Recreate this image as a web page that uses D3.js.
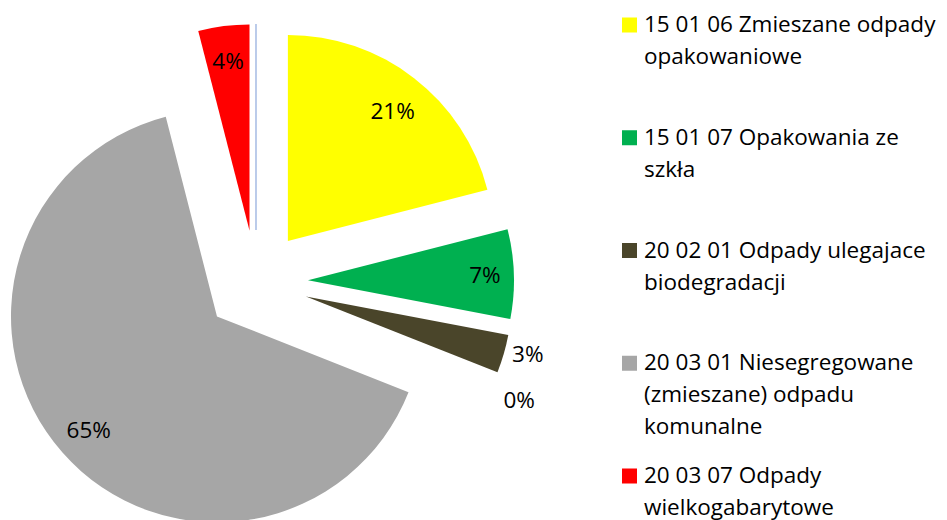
<!DOCTYPE html>
<html>
<head>
<meta charset="utf-8">
<script src="https://cdn.jsdelivr.net/npm/d3@7"></script>
<style>
  body { margin: 0; background: #fff; }
  svg { display: block; font-family: "Open Sans", Lato, sans-serif; }
</style>
</head>
<body>
<svg id="chart" width="947" height="520"></svg>
<script>
// dane wykresu
var categories = [
    "15 01 06 Zmieszane odpady opakowaniowe",
    "15 01 07 Opakowania ze szkła",
    "20 02 01 Odpady ulegajace biodegradacji",
    "",
    "20 03 01 Niesegregowane (zmieszane) odpadu komunalne",
    "20 03 07 Odpady wielkogabarytowe",
    ""
];
var values = [21, 7, 3, 0, 65, 4, 0];
var labels = ["21%", "7%", "3%", "0%", "65%", "4%", ""];
var colors = ["#FFFF00", "#00B050", "#4A452A", "#FFFFFF", "#A6A6A6", "#FF0000", "#4472C4"];
var legendLines = [
    ["15 01 06 Zmieszane odpady", "opakowaniowe"],
    ["15 01 07 Opakowania ze", "szkła"],
    ["20 02 01 Odpady ulegajace", "biodegradacji"],
    ["20 03 01 Niesegregowane", "(zmieszane) odpadu", "komunalne"],
    ["20 03 07 Odpady", "wielkogabarytowe"]
];
var legendColors = ["#FFFF00", "#00B050", "#4A452A", "#A6A6A6", "#FF0000"];

var svg = d3.select("#chart");

var cx = 256, cy = 282;
var radius = 206;
var explode = 52;
var fontSize = 22.5;

var pie = d3.pie().sort(null).value(function(d){ return d; });
var arc = d3.arc().innerRadius(0).outerRadius(radius);
var slices = pie(values);

function mid(d){ return (d.startAngle + d.endAngle) / 2; }
function shift(d){
    var a = mid(d);
    return [cx + explode * Math.sin(a), cy - explode * Math.cos(a)];
}

var g = svg.append("g");
g.selectAll("path.slice")
    .data(slices)
    .enter()
    .append("path")
    .attr("class", "slice")
    .attr("transform", function(d){ return "translate(" + shift(d) + ")"; })
    .attr("d", arc)
    .attr("fill", function(d, i){ return colors[i]; })
    .attr("stroke", function(d, i){ return i === 6 ? "#8FAADC" : "none"; })
    .attr("stroke-width", 1.2);

// etykiety procentowe (male wycinki - na zewnatrz)
var lastOutsideY = -999;
slices.forEach(function(d, i){
    if(!labels[i]) return;
    var a = mid(d);
    var p = shift(d);
    var outside = (d.endAngle - d.startAngle) < 0.2 && i !== 5;
    var r = outside ? radius + 25 : radius * 0.83;
    var x = p[0] + r * Math.sin(a);
    var y = p[1] - r * Math.cos(a);
    if(outside){
        y -= 7;
        if(y < lastOutsideY + 46) y = lastOutsideY + 46;
        lastOutsideY = y;
    }
    if(i === 0) y += 5;
    if(i === 1) x += 6;
    svg.append("text")
        .attr("x", x)
        .attr("y", y)
        .attr("text-anchor", "middle")
        .attr("dominant-baseline", "central")
        .attr("font-size", fontSize)
        .attr("fill", "#000")
        .text(labels[i]);
});

// legenda
var legend = svg.append("g").attr("transform", "translate(622,0)");
legendLines.forEach(function(lines, i){
    var y0 = 25 + i * 112.75;
    legend.append("rect")
        .attr("x", 0).attr("y", y0 - 7.5)
        .attr("width", 15).attr("height", 15)
        .attr("fill", legendColors[i]);
    lines.forEach(function(t, j){
        legend.append("text")
            .attr("x", 22)
            .attr("y", y0 + 7 + j * 32)
            .attr("font-size", fontSize)
            .attr("fill", "#000")
            .text(t);
    });
});
</script>
</body>
</html>
